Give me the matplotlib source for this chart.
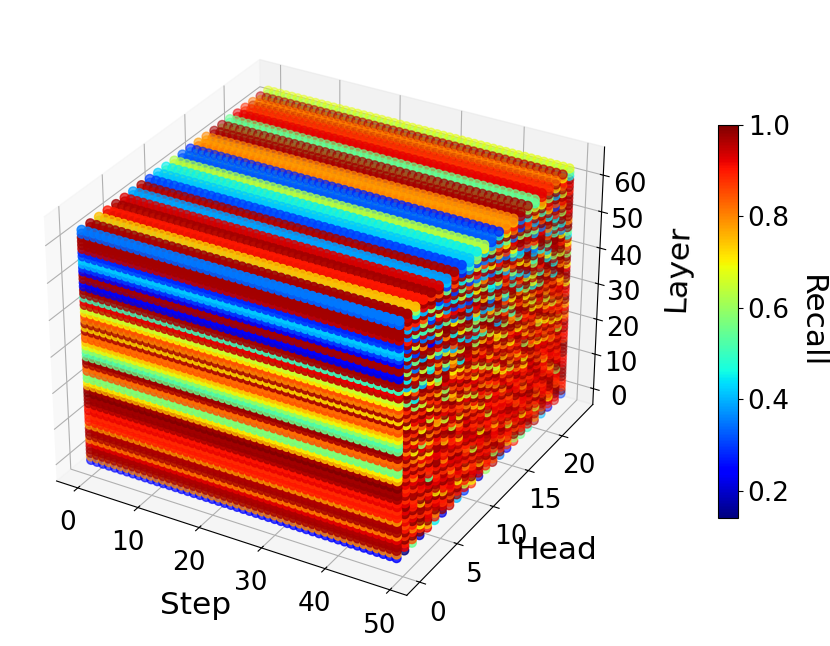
import numpy as np
import matplotlib
matplotlib.use("Agg")
import matplotlib.pyplot as plt

# Axis categories
steps = np.arange(50)
heads = np.arange(24)
layers = np.arange(64)

# Recall (in percent) per layer (rows, layer 0..63) and head (columns, head 0..23)
recall_pct = [
    [25,14,55,20,92,45,22,95,40,30,88,20,60,96,35,25,90,55,50,97,40,22,93,30],
    [80,92,85,99,75,90,98,88,97,92,70,95,90,85,99,88,60,97,92,80,98,90,92,99],
    [97,90,99,88,98,80,93,99,90,65,99,92,90,98,88,75,99,90,98,95,85,92,97,88],
    [97,99,90,70,92,99,88,85,99,90,92,99,88,60,98,92,95,90,97,88,96,70,99,90],
    [96,88,80,98,92,95,90,97,88,96,92,75,99,90,95,88,85,99,90,65,97,88,98,90],
    [92,98,90,99,88,92,99,90,70,98,88,97,92,99,80,90,99,92,88,92,99,90,85,98],
    [80,90,99,88,97,90,75,92,97,88,88,96,90,97,92,95,88,70,99,90,90,98,88,99],
    [97,85,92,98,88,99,92,95,90,80,97,90,98,88,97,65,92,97,88,99,92,97,90,96],
    [97,92,88,97,99,70,90,97,92,99,88,97,85,92,98,88,97,92,98,80,90,99,92,98],
    [96,88,98,75,92,96,99,88,97,90,99,88,97,92,90,97,92,88,90,97,88,96,60,92],
    [78,98,90,99,88,97,92,80,90,97,65,92,96,88,97,90,97,92,99,88,95,90,99,92],
    [90,92,90,88,99,92,97,90,96,88,97,92,99,75,90,98,85,92,99,90,98,88,97,90],
    [90,99,88,98,92,90,88,97,92,85,90,97,88,96,92,97,88,99,92,97,88,75,92,99],
    [88,92,98,90,99,88,98,92,99,90,98,70,92,88,97,92,99,88,97,92,92,98,88,97],
    [92,88,96,92,55,98,90,99,88,98,92,99,90,97,90,88,97,80,90,96,88,97,92,98],
    [90,97,88,97,92,90,80,88,96,92,97,88,96,90,92,85,90,99,88,98,92,90,88,99],
    [97,90,97,92,88,99,92,97,88,96,90,97,65,92,88,99,92,88,99,90,75,92,97,88],
    [98,88,92,99,90,97,88,92,75,97,88,92,98,88,99,92,88,98,92,99,88,97,90,92],
    [97,92,80,88,99,92,96,88,97,90,96,88,92,96,88,99,92,90,98,85,92,88,98,90],
    [100,97,90,98,88,92,97,90,92,99,88,98,90,92,80,90,99,88,92,98,90,96,88,98],
    [97,88,98,80,92,98,75,97,88,92,98,70,97,90,99,85,92,70,98,88,97,80,99,92],
    [75,97,88,92,70,97,85,99,80,98,88,97,65,99,92,97,80,98,85,96,92,88,65,98],
    [70,90,97,75,97,88,98,65,99,85,75,98,92,80,96,90,97,70,98,92,75,98,90,88],
    [55,99,80,98,88,92,97,88,70,99,92,85,98,90,85,65,98,92,99,70,97,88,98,80],
    [58,85,98,92,75,99,90,96,98,80,99,92,80,96,70,99,88,98,75,99,85,97,70,98],
    [85,98,70,60,98,85,97,92,88,98,65,99,90,98,92,80,75,97,88,92,99,70,97,90],
    [82,92,99,88,80,98,65,97,85,92,98,80,99,70,98,97,92,60,99,85,88,96,92,75],
    [97,80,92,97,99,75,99,88,97,65,90,96,88,65,97,85,97,99,80,97,70,99,85,98],
    [98,96,75,99,88,80,92,96,70,97,98,88,97,92,75,97,88,92,98,65,96,85,96,99],
    [55,88,99,70,98,92,85,99,96,80,92,98,65,99,97,88,96,75,97,75,99,92,80,88],
    [52,97,88,85,65,99,96,80,98,92,70,85,99,88,96,70,99,97,85,97,88,65,99,92],
    [60,85,97,98,92,80,97,75,88,99,98,65,90,99,80,96,92,80,96,98,75,99,88,96],
    [70,96,80,92,99,96,60,97,99,85,90,98,75,88,99,92,70,99,88,96,98,85,96,70],
    [75,98,92,99,70,88,99,85,92,96,65,97,98,80,97,85,98,90,99,75,65,96,92,99],
    [85,70,96,88,97,99,60,98,80,80,97,92,96,98,65,99,97,85,70,97,99,88,80,97],
    [82,99,85,97,88,75,97,92,96,98,88,85,99,70,96,98,60,97,98,92,80,99,75,98],
    [97,85,97,65,98,96,92,80,70,97,99,96,88,75,98,80,96,99,65,99,98,85,97,92],
    [72,97,60,96,85,99,98,70,98,92,80,98,97,99,60,80,98,75,99,88,85,98,99,70],
    [97,88,97,80,99,65,96,98,45,96,98,75,65,97,99,50,97,98,80,99,97,45,98,97],
    [80,96,45,97,90,55,98,80,99,97,60,99,98,40,97,99,85,70,98,55,99,97,80,99],
    [85,55,97,98,70,98,40,75,96,99,98,50,97,99,85,65,96,99,45,98,80,99,97,60],
    [70,97,85,40,99,80,60,99,65,96,45,80,99,97,50,97,99,60,70,99,97,45,99,96],
    [65,99,50,55,97,96,99,75,98,40,96,97,60,60,98,70,80,99,96,50,99,96,65,85],
    [95,70,98,97,45,80,97,40,97,96,50,99,97,98,85,99,45,98,65,96,98,60,99,70],
    [92,40,96,99,50,97,65,85,45,97,99,55,75,97,40,98,96,65,97,90,45,99,98,96],
    [50,98,80,65,97,35,40,97,99,60,60,98,40,99,55,96,85,35,97,99,70,97,90,45],
    [97,45,97,98,96,55,99,97,70,98,45,40,99,80,97,50,96,99,60,97,40,96,99,55],
    [97,97,35,99,65,90,97,45,97,99,75,98,35,99,96,97,45,97,50,80,97,99,70,98],
    [22,60,97,40,98,97,80,99,97,35,97,99,55,97,85,40,97,75,99,45,55,98,35,99],
    [25,97,55,98,97,35,99,97,60,98,92,75,99,40,96,60,98,99,40,97,99,50,96,80],
    [97,35,98,97,25,97,99,70,97,40,98,97,45,65,90,97,70,98,35,99,85,97,45,97],
    [97,98,30,80,97,65,98,35,99,97,55,98,45,97,40,85,97,99,65,98,40,50,99,97],
    [25,45,97,99,38,97,55,97,90,30,98,60,97,99,75,97,45,35,90,97,80,99,97,92],
    [30,97,65,35,98,40,97,92,35,97,70,98,95,50,97,40,40,85,97,92,98,45,60,99],
    [40,30,97,95,55,98,88,30,97,45,99,80,35,97,98,55,92,97,40,35,97,90,98,97],
    [42,97,30,50,97,92,40,98,65,97,60,40,97,90,35,70,98,95,60,99,45,97,80,95],
    [30,90,55,98,30,65,97,45,99,85,35,97,70,35,88,97,98,55,95,85,97,30,92,98],
    [28,35,97,60,40,98,35,97,55,30,90,50,98,75,97,92,60,99,40,97,75,85,97,90],
    [95,97,35,85,97,45,92,30,98,60,97,88,40,97,70,35,98,85,97,50,90,99,65,97],
    [97,40,90,97,60,30,98,95,45,97,65,35,99,85,55,97,30,90,75,98,95,40,97,92],
    [97,88,97,40,95,98,55,85,97,38,30,97,60,42,99,82,95,45,97,70,60,98,85,97],
    [97,97,45,92,98,85,30,97,28,50,62,45,38,97,70,90,35,97,65,80,98,72,90,45],
    [33,95,60,97,88,97,42,90,35,40,55,70,30,45,85,75,95,60,50,92,88,97,70,55],
    [35,97,75,90,97,93,38,97,30,42,45,62,33,28,78,80,97,97,55,92,88,82,95,68],
]

step_ticks = [0, 10, 20, 30, 40, 50]
head_ticks = [0, 5, 10, 15, 20]
layer_ticks = [0, 10, 20, 30, 40, 50, 60]

R = np.array(recall_pct, dtype=float) / 100.0
Lg, Hg, Sg = np.meshgrid(layers, heads, steps, indexing="ij")
Cg = np.broadcast_to(R[:, :, None], Lg.shape)

fig = plt.figure(figsize=(8.3, 6.46), dpi=100)
ax = fig.add_axes([0.001, 0.0175, 0.772, 0.965], projection="3d")
sc = ax.scatter(Sg.ravel(), Hg.ravel(), Lg.ravel(), c=Cg.ravel(), cmap="jet", s=42)

ax.set_xticks(step_ticks)
ax.set_yticks(head_ticks)
ax.set_zticks(layer_ticks)
ax.tick_params(axis="both", labelsize=19)
ax.tick_params(axis="z", labelsize=19)
ax.set_xlabel("Step", fontsize=22.5, labelpad=14)
ax.set_ylabel("Head", fontsize=22.5, labelpad=14)
ax.set_zlabel("Layer", fontsize=22.5, labelpad=14)

cax = fig.add_axes([718 / 830, (646 - 518) / 646, 20 / 830, 393 / 646])
cb = fig.colorbar(sc, cax=cax)
cb.ax.tick_params(labelsize=19)
cb.set_label("Recall", fontsize=22.5, rotation=270, labelpad=26)

fig.savefig("out.png", dpi=100)
